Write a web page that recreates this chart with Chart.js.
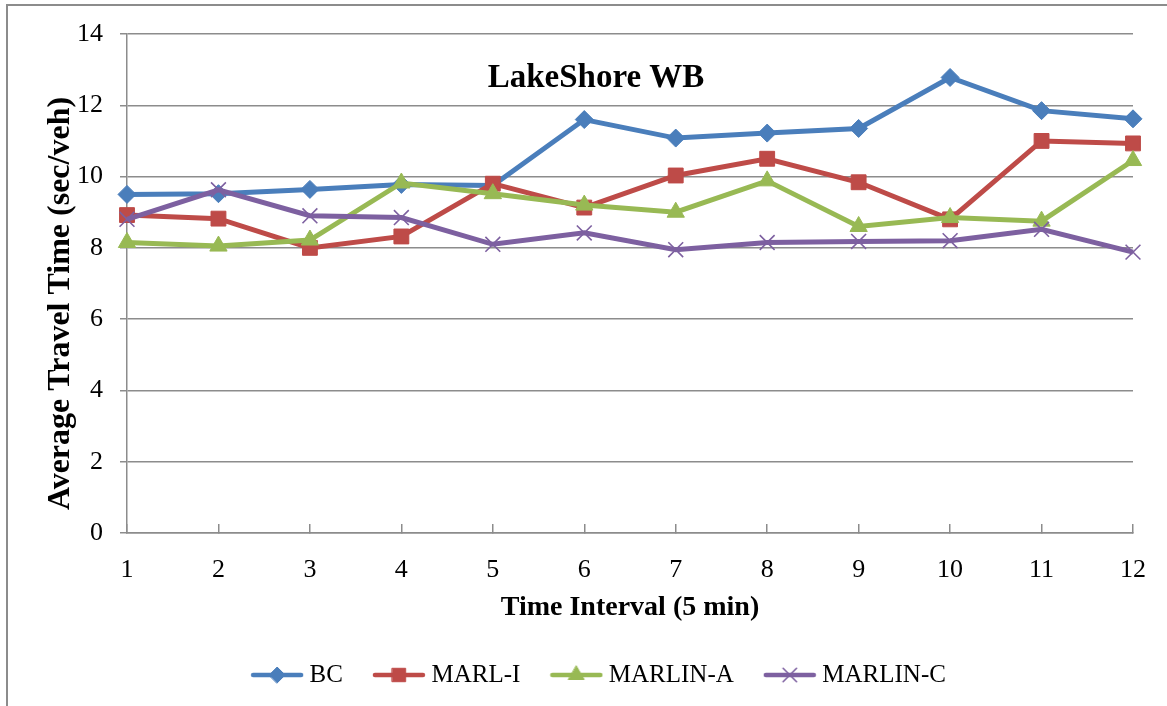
<!DOCTYPE html>
<html>
<head>
<meta charset="utf-8">
<script src="https://cdn.jsdelivr.net/npm/chart.js@4.4.1/dist/chart.umd.min.js"></script>
<style>
body{margin:0;background:#fff;}
#wrap{position:relative;width:1167px;height:706px;overflow:hidden;}
#frame{position:absolute;left:6px;top:4px;width:1200px;height:800px;border-left:2px solid #8c8c8c;border-top:2px solid #8c8c8c;}
canvas{position:absolute;left:0;top:0;}
</style>
</head>
<body>
<div id="wrap">
  <div id="frame"></div>
  <canvas id="travelChart" width="1167" height="706"></canvas>
</div>
<script>
const chartTitle = "LakeShore WB";

const intervals = ["1","2","3","4","5","6","7","8","9","10","11","12"];

const bcTimes      = [9.50, 9.52, 9.64, 9.78, 9.75, 11.60, 11.08, 11.22, 11.35, 12.78, 11.85, 11.62];
const marlITimes   = [8.92, 8.82, 8.00, 8.32, 9.80, 9.13, 10.03, 10.50, 9.84, 8.80, 11.00, 10.93];
const marlinATimes = [8.15, 8.05, 8.22, 9.82, 9.52, 9.20, 9.00, 9.88, 8.60, 8.85, 8.75, 10.45];
const marlinCTimes = [8.80, 9.63, 8.90, 8.85, 8.10, 8.42, 7.95, 8.15, 8.18, 8.20, 8.52, 7.88];

const yTicks = [0, 2, 4, 6, 8, 10, 12, 14];

const gridGray = "#8c8c8c";
const serif = "'Liberation Serif', 'Times New Roman', serif";

// little line+marker picture for the legend, like Excel does it
function legendIcon(color, style, radius, pointBorder){
    const c = document.createElement("canvas");
    c.width = 54;
    c.height = 22;
    const ctx = c.getContext("2d");
    ctx.strokeStyle = color;
    ctx.fillStyle = color;
    ctx.lineWidth = 4.5;
    ctx.lineCap = "round";
    ctx.beginPath();
    ctx.moveTo(3, 11);
    ctx.lineTo(51, 11);
    ctx.stroke();
    ctx.lineWidth = pointBorder;
    Chart.helpers.drawPoint(ctx, {pointStyle: style, radius: radius, rotation: 0, borderWidth: pointBorder}, 27, 11);
    return c;
}

function series(label, data, color, style, radius, pointBorder, order){
    return {
        label: label,
        data: data,
        borderColor: color,
        backgroundColor: color,
        borderWidth: 5,
        pointStyle: style,
        pointRadius: radius,
        pointHoverRadius: radius,
        pointBorderWidth: pointBorder,
        pointBackgroundColor: color,
        pointBorderColor: color,
        tension: 0,
        order: order,
        icon: legendIcon(color, style, radius - 1, pointBorder)
    };
}

const insideTitle = {
    id: "insideTitle",
    afterDraw(chart){
        const ctx = chart.ctx;
        const area = chart.chartArea;
        ctx.save();
        ctx.font = "bold 33px " + serif;
        ctx.fillStyle = "#000";
        ctx.textAlign = "center";
        ctx.textBaseline = "middle";
        ctx.fillText(chartTitle, area.left + 469, area.top + 44);
        ctx.restore();
    }
};

// legend sits a bit right of the canvas middle in the original
const legendShift = {
    id: "legendShift",
    afterUpdate(chart){
        chart.legend.left += 35;
        chart.legend.right += 35;
    }
};

new Chart(document.getElementById("travelChart"), {
    type: "line",
    data: {
        labels: intervals,
        datasets: [
            series("BC", bcTimes, "#4a7ebb", "rectRot", 9, 1, 3),
            series("MARL-I", marlITimes, "#be4b48", "rect", 10.5, 1, 2),
            series("MARLIN-A", marlinATimes, "#98b954", "triangle", 10, 1, 1),
            series("MARLIN-C", marlinCTimes, "#7d60a0", "crossRot", 10.5, 1.6, 0)
        ]
    },
    options: {
        responsive: false,
        devicePixelRatio: 1,
        animation: false,
        layout: {
            padding: {left: 0, right: 34, top: 34, bottom: 8.5}
        },
        plugins: {
            tooltip: {enabled: false},
            legend: {
                position: "bottom",
                labels: {
                    usePointStyle: true,
                    pointStyleWidth: 40,
                    padding: 36,
                    color: "#000",
                    font: {family: serif, size: 25},
                    sort: (a, b) => a.datasetIndex - b.datasetIndex,
                    generateLabels(chart){
                        return chart.data.datasets.map((ds, i) => ({
                            text: ds.label,
                            fillStyle: ds.borderColor,
                            strokeStyle: ds.borderColor,
                            lineWidth: 0,
                            pointStyle: ds.icon,
                            fontColor: "#000",
                            hidden: false,
                            datasetIndex: i
                        }));
                    }
                }
            }
        },
        scales: {
            x: {
                type: "category",
                offset: false,
                afterFit(scale){ scale.height = 93.5; },
                grid: {
                    drawOnChartArea: false,
                    color: gridGray,
                    lineWidth: 1.5,
                    tickLength: -9
                },
                border: {color: gridGray, width: 1.5},
                ticks: {
                    color: "#000",
                    padding: 21,
                    maxRotation: 0,
                    font: {family: serif, size: 26, lineHeight: 1.9}
                },
                title: {
                    display: true,
                    text: "Time Interval (5 min)",
                    color: "#000",
                    font: {family: serif, size: 28, weight: "bold"},
                    padding: {top: 0, bottom: 2}
                }
            },
            y: {
                min: 0,
                max: 14,
                afterFit(scale){ scale.width = 127; },
                afterBuildTicks(scale){ scale.ticks = yTicks.map(v => ({value: v})); },
                grid: {
                    color: gridGray,
                    lineWidth: 1.5,
                    tickLength: 7
                },
                border: {color: gridGray, width: 1.5},
                ticks: {
                    color: "#000",
                    padding: 17,
                    font: {family: serif, size: 26}
                },
                title: {
                    display: true,
                    text: "Average Travel Time (sec/veh)     ",
                    color: "#000",
                    font: {family: serif, size: 32, weight: "bold"},
                    padding: {top: 42, bottom: 0}
                }
            }
        }
    },
    plugins: [insideTitle, legendShift]
});
</script>
</body>
</html>
